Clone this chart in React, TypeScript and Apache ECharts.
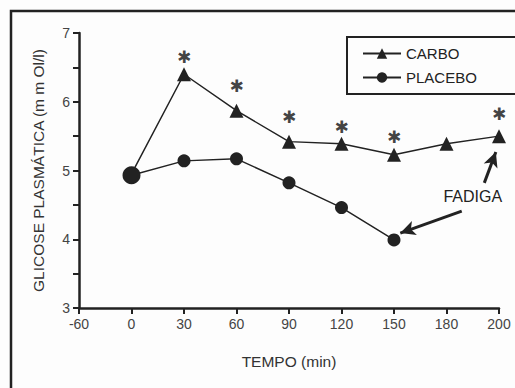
import React, { useEffect, useRef } from "react";
import * as echarts from "echarts";

const xLabels = ["-60", "0", "30", "60", "90", "120", "150", "180", "200"];
const carbo = [
  [1, 4.95],
  [2, 6.4],
  [3, 5.87],
  [4, 5.42],
  [5, 5.39],
  [6, 5.23],
  [7, 5.39],
  [8, 5.5],
];
const placebo = [
  [1, 4.93],
  [2, 5.14],
  [3, 5.17],
  [4, 4.82],
  [5, 4.46],
  [6, 3.99],
];
const stars = [
  [2, 6.65],
  [3, 6.23],
  [4, 5.78],
  [5, 5.63],
  [6, 5.49],
  [8, 5.82],
];
const fatigueLabel = "FADIGA";
const fatigueText = [7.5, 4.62];
const arrowToPlacebo = [
  [7.29, 4.41],
  [6.12, 4.09],
];
const arrowToCarbo = [
  [7.72, 4.82],
  [7.94, 5.27],
];

const INK = "#222";

export default function App() {
  const ref = useRef<HTMLDivElement>(null);
  useEffect(() => {
    if (!ref.current) return;
    const chart = echarts.init(ref.current, null, { renderer: "svg" });
    chart.setOption({
      animation: false,
      backgroundColor: "#fdfdfd",
      graphic: [
        {
          type: "rect",
          shape: { x: 11, y: 11, width: 530, height: 400 },
          style: { fill: "none", stroke: INK, lineWidth: 2.5 },
          silent: true,
        },
      ],
      grid: { left: 79, top: 33, right: 16, bottom: 80 },
      legend: {
        left: 347,
        top: 37,
        orient: "vertical",
        width: 150,
        data: ["CARBO", "PLACEBO"],
        borderColor: INK,
        borderWidth: 2,
        padding: [9, 46, 9, 15],
        itemWidth: 38,
        itemHeight: 13,
        itemGap: 9,
        textStyle: {
          fontFamily: "'Liberation Sans Narrow', 'Arial Narrow', sans-serif",
          fontSize: 15,
          color: INK,
        },
      },
      xAxis: {
        type: "value",
        min: 0,
        max: 8,
        interval: 1,
        name: "TEMPO (min)",
        nameLocation: "middle",
        nameGap: 45,
        nameTextStyle: { fontFamily: "'Liberation Sans', Arial, sans-serif", fontSize: 15.5, color: "#333" },
        axisLine: { lineStyle: { color: INK, width: 2.5 } },
        axisTick: { show: true, length: 6, lineStyle: { color: INK, width: 2 } },
        axisLabel: {
          formatter: (v: number) => xLabels[Math.round(v)] ?? "",
          fontFamily: "'Liberation Sans', Arial, sans-serif",
          fontSize: 14,
          color: "#444",
          margin: 9,
        },
        splitLine: { show: false },
      },
      yAxis: {
        type: "value",
        min: 3,
        max: 7,
        interval: 0.5,
        name: "GLICOSE PLASMÁTICA (m m Ol/l)",
        nameLocation: "middle",
        nameGap: 33,
        nameTextStyle: { fontFamily: "'Liberation Sans', Arial, sans-serif", fontSize: 15.5, color: "#333" },
        axisLine: { show: true, lineStyle: { color: INK, width: 2.5 } },
        axisTick: { show: true, length: 6, lineStyle: { color: INK, width: 2 } },
        axisLabel: {
          formatter: (v: number) => (Math.abs(v % 1) < 1e-9 ? String(v) : ""),
          fontFamily: "'Liberation Sans', Arial, sans-serif",
          fontSize: 14,
          color: "#444",
          margin: 9,
        },
        splitLine: { show: false },
      },
      series: [
        {
          name: "CARBO",
          type: "line",
          data: carbo.map((d, i) => (i === 0 ? { value: d, symbolSize: 0 } : d)),
          symbol: "triangle",
          symbolSize: 14,
          itemStyle: { color: INK },
          lineStyle: { color: INK, width: 1.5 },
          z: 3,
        },
        {
          name: "PLACEBO",
          type: "line",
          data: placebo.map((d, i) => (i === 0 ? { value: d, symbolSize: 18 } : d)),
          symbol: "circle",
          symbolSize: 13,
          itemStyle: { color: INK },
          lineStyle: { color: INK, width: 1.5 },
          z: 4,
          markLine: {
            silent: true,
            symbol: ["none", "arrow"],
            symbolSize: [11, 15],
            lineStyle: { color: INK, width: 3, type: "solid" },
            label: { show: false },
            data: [
              [{ coord: arrowToPlacebo[0] }, { coord: arrowToPlacebo[1] }],
              [{ coord: arrowToCarbo[0] }, { coord: arrowToCarbo[1] }],
            ],
          },
          markPoint: {
            silent: true,
            symbol: "circle",
            symbolSize: 0,
            label: {
              show: true,
              formatter: fatigueLabel,
              position: "inside",
              fontFamily: "'Liberation Sans Narrow', 'Arial Narrow', sans-serif",
              fontSize: 16,
              color: INK,
            },
            data: [{ coord: fatigueText }],
          },
        },
        {
          name: "sig",
          type: "scatter",
          data: stars,
          symbolSize: 1,
          itemStyle: { color: "transparent" },
          label: {
            show: true,
            formatter: "✱",
            position: "inside",
            fontFamily: "'DejaVu Sans', sans-serif",
            fontSize: 17,
            color: "#111",
          },
          silent: true,
        },
      ],
    });
    return () => chart.dispose();
  }, []);
  return (
    <div
      ref={ref}
      style={{ position: "absolute", left: 0, top: 0, width: 515, height: 388 }}
    />
  );
}
